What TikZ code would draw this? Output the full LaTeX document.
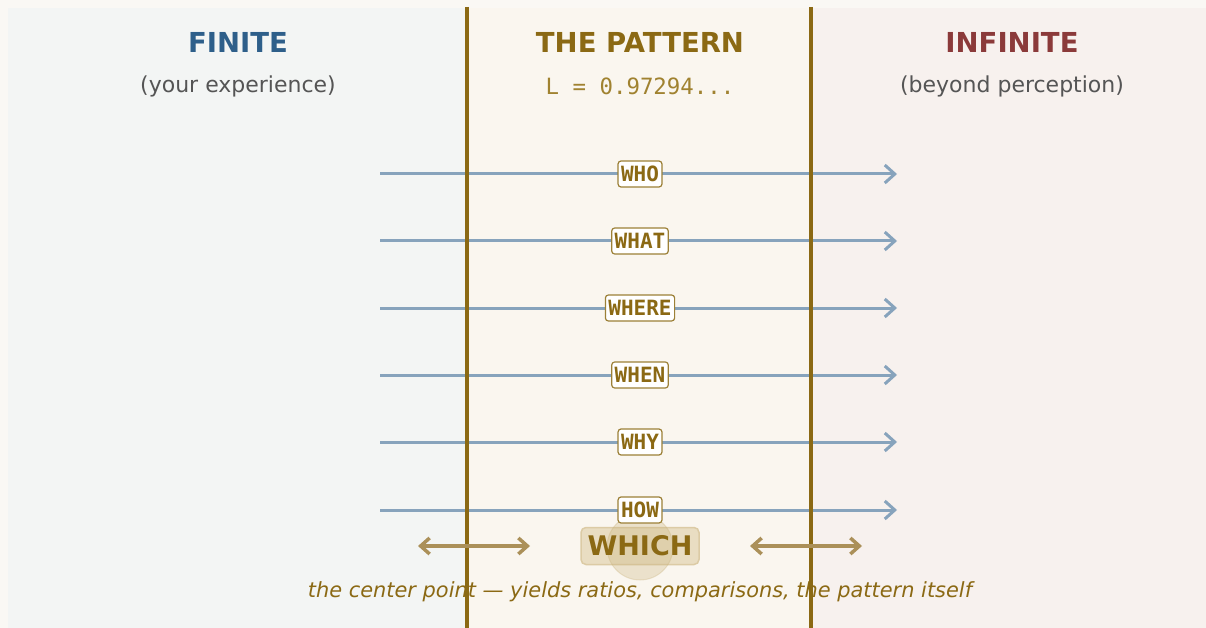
\documentclass[tikz,border=0pt]{standalone}
\usepackage{fontspec}
\setmainfont{DejaVu Sans}
\newfontfamily\monofont{DejaVu Sans Mono}
\usetikzlibrary{arrows.meta}
\definecolor{outerbg}{HTML}{FAF8F4}
\definecolor{leftbg}{HTML}{F3F5F4}
\definecolor{midbg}{HTML}{FAF6EF}
\definecolor{rightbg}{HTML}{F7F1EE}
\definecolor{gold}{HTML}{8B6914}
\definecolor{goldlight}{HTML}{A08230}
\definecolor{finblue}{HTML}{2E5F8A}
\definecolor{infred}{HTML}{8B3A3A}
\definecolor{subgray}{HTML}{555555}
\definecolor{rayblue}{HTML}{87A3BC}
\definecolor{dblarrow}{HTML}{AB9059}
\definecolor{whichfill}{HTML}{E9DDC2}
\definecolor{whichdraw}{HTML}{DCCBA5}
\definecolor{circfill}{HTML}{C9B27A}
\tikzset{
  title/.style={font=\bfseries\fontsize{27.5}{32}\selectfont, anchor=center},
  subtitle/.style={font=\fontsize{22}{26}\selectfont, text=subgray, anchor=center},
  ray/.style={draw=rayblue, line width=3pt, -{Straight Barb[length=10pt,width=18pt,line width=3pt]}},
  qlabel/.style={draw=gold!85!white, fill=white, rounded corners=3pt, line width=1.2pt, text=gold,
    font=\monofont\bfseries\fontsize{21}{24}\selectfont, inner xsep=3pt, inner ysep=2pt, minimum height=26pt},
  divider/.style={draw=gold, line width=4pt},
  dbl/.style={draw=dblarrow, line width=3.5pt, {Straight Barb[length=9pt,width=16pt,line width=3.5pt]}-{Straight Barb[length=9pt,width=16pt,line width=3.5pt]}},
}
\begin{document}
\begin{tikzpicture}[x=1pt,y=-1pt]
\useasboundingbox (0,0) rectangle (1206,628);
% backgrounds
\fill[outerbg] (0,0) rectangle (1206,628);
\fill[leftbg] (8,8) rectangle (467,628);
\fill[midbg] (467,8) rectangle (811,628);
\fill[rightbg] (811,8) rectangle (1206,628);
% titles
\node[title, text=finblue] (tfin) at (238,42) {FINITE};
\node[title, text=gold] (tpat) at (640,42) {THE PATTERN};
\node[title, text=infred] (tinf) at (1012,42) {INFINITE};
\node[subtitle] (sfin) at (238,86) {(your experience)};
\node[font=\monofont\fontsize{22.4}{26}\selectfont, text=goldlight] (spat) at (640,86) {L = 0.97294...};
\node[subtitle] (sinf) at (1012,86) {(beyond perception)};
% which background box
\node[rounded corners=5pt, fill=whichfill, draw=whichdraw, line width=1.5pt,
  minimum width=118pt, minimum height=37pt] (whichbox) at (640,546) {};
\node[circle, fill=circfill, fill opacity=0.3, draw=circfill, draw opacity=0.3, line width=1pt,
  minimum size=66pt, inner sep=0pt] (wcirc) at (640,547) {};
% rays
\foreach \y/\n/\t in {174/who/WHO,241/what/WHAT,308/where/WHERE,375/when/WHEN,442/why/WHY,510/how/HOW}{
  \coordinate (s\n) at (380,\y);
  \coordinate (e\n) at (897,\y);
  \draw[ray] (s\n) -- (e\n);
}
% dividers
\coordinate (d1t) at (467,7); \coordinate (d1b) at (467,628);
\coordinate (d2t) at (811,7); \coordinate (d2b) at (811,628);
\draw[divider] (d1t) -- (d1b);
\draw[divider] (d2t) -- (d2b);
% labels
\foreach \y/\n/\t in {174/who/WHO,241/what/WHAT,308/where/WHERE,375/when/WHEN,442/why/WHY,510/how/HOW}{
  \node[qlabel] (l\n) at (640,\y) {\t};
}
% which text
\node[text=gold, font=\bfseries\fontsize{27}{31}\selectfont] (which) at (whichbox.center) {WHICH};
\coordinate (la1) at (418,546); \coordinate (la2) at (530,546);
\coordinate (ra1) at (750,546); \coordinate (ra2) at (862,546);
\draw[dbl] (la1) -- (la2);
\draw[dbl] (ra1) -- (ra2);
% caption
\node[font=\itshape\fontsize{20.9}{25}\selectfont, text=gold] (cap) at (640,592) {the center point — yields ratios, comparisons, the pattern itself};
\end{tikzpicture}
\end{document}
